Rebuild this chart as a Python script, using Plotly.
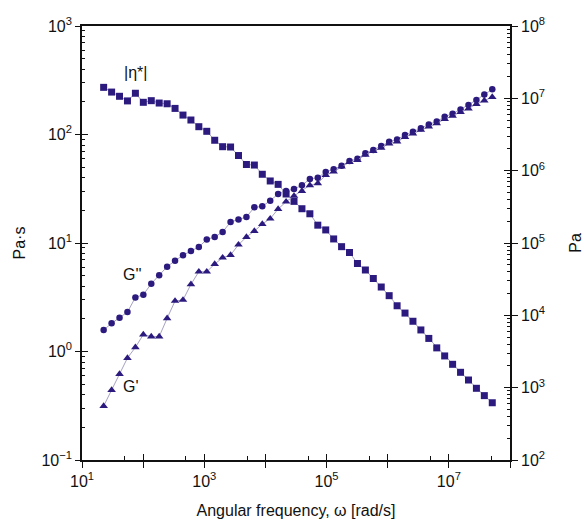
import plotly.graph_objects as go

# Angular frequency, rad/s
omega = [22.6, 30.5, 41.1, 55.4, 74.7, 100.7, 135.8, 183.0, 246.8, 332.6,
         448.4, 604.4, 814.7, 1098, 1481, 1996, 2691, 3627, 4889, 6591,
         8884, 11980, 16140, 21770, 29340, 39550, 53320, 71870, 96880, 130600,
         176000, 237300, 319900, 431200, 581300, 783600, 1.056e6, 1.424e6, 1.919e6, 2.587e6,
         3.488e6, 4.701e6, 6.339e6, 8.545e6, 1.152e7, 1.553e7, 2.094e7, 2.822e7, 3.804e7, 5.128e7]

# |eta*| in Pa·s (left axis)
eta = [272, 246, 225, 204, 240, 198, 205, 195, 192, 174,
       151, 136, 118, 107, 88.5, 77.2, 76.7, 64.0, 52.9, 52.3,
       43.0, 37.3, 34.7, 28.3, 24.2, 20.7, 18.6, 14.6, 13.2, 10.9,
       9.25, 8.17, 6.47, 5.64, 4.71, 3.93, 3.27, 2.64, 2.26, 1.90,
       1.58, 1.32, 1.08, 0.910, 0.762, 0.643, 0.546, 0.458, 0.392, 0.337]

# G'' in Pa (right axis)
g2 = [6270, 7760, 9270, 11100, 17700, 19300, 27400, 35700, 47000, 56900,
      67600, 77500, 88100, 112000, 121000, 142000, 195000, 211000, 229000, 311000,
      321000, 385000, 476000, 523000, 557000, 628000, 767000, 800000, 958000, 1.045e6,
      1.17e6, 1.36e6, 1.46e6, 1.74e6, 1.93e6, 2.19e6, 2.51e6, 2.70e6, 3.11e6, 3.44e6,
      3.85e6, 4.35e6, 4.78e6, 5.57e6, 6.13e6, 7.01e6, 8.09e6, 9.48e6, 1.13e7, 1.33e7]

# G' in Pa (right axis)
g1 = [557, 927, 1545, 2570, 3610, 5430, 5090, 5090, 9100, 15800,
      16300, 26800, 40100, 40100, 51200, 62600, 68200, 94700, 121000, 146000,
      183000, 217000, 295000, 372000, 447000, 523000, 628000, 668000, 871000, 968000,
      1.135e6, 1.31e6, 1.40e6, 1.66e6, 1.87e6, 2.06e6, 2.37e6, 2.53e6, 2.92e6, 3.26e6,
      3.65e6, 4.08e6, 4.49e6, 5.18e6, 5.70e6, 6.47e6, 7.23e6, 8.35e6, 9.33e6, 1.04e7]

x_decades = [1, 2, 3, 4, 5, 6, 7, 8]
x_labels = ["10<sup>1</sup>", "", "10<sup>3</sup>", "", "10<sup>5</sup>", "", "10<sup>7</sup>", ""]
yl_decades = [-1, 0, 1, 2, 3]
yl_labels = ["10<sup>−1</sup>", "10<sup>0</sup>", "10<sup>1</sup>", "10<sup>2</sup>", "10<sup>3</sup>"]
yr_decades = [2, 3, 4, 5, 6, 7, 8]
yr_labels = ["10<sup>2</sup>", "10<sup>3</sup>", "10<sup>4</sup>", "10<sup>5</sup>",
             "10<sup>6</sup>", "10<sup>7</sup>", "10<sup>8</sup>"]

# curve labels: text, position (log10 of omega, log10 of value), axis
curve_labels = [("|η*|", 1.88, 2.57, "y"), ("G''", 1.83, 4.56, "y2"), ("G'", 1.80, 3.01, "y2")]

MARK = "#2C1A7E"
LINE = "#A7A2C2"
FONT = "Arial, Liberation Sans, sans-serif"

def vals(decs):
    return [10 ** d for d in decs]

def minors(decs, mults):
    out = []
    for d in decs[:-1]:
        for m in mults:
            out.append(m * 10 ** d)
    return out

fig = go.Figure()
fig.add_trace(go.Scatter(x=omega, y=eta, mode="lines+markers", xaxis="x", yaxis="y",
                         line=dict(color=LINE, width=1),
                         marker=dict(symbol="square", size=7, color=MARK), name="|η*|"))
fig.add_trace(go.Scatter(x=omega, y=g2, mode="lines+markers", xaxis="x", yaxis="y2",
                         line=dict(color=LINE, width=1),
                         marker=dict(symbol="circle", size=6.5, color=MARK), name="G''"))
fig.add_trace(go.Scatter(x=omega, y=g1, mode="lines+markers", xaxis="x", yaxis="y2",
                         line=dict(color=LINE, width=1),
                         marker=dict(symbol="triangle-up", size=7.5, color=MARK), name="G'"))
# empty traces so that the tick-overlay axes are drawn
fig.add_trace(go.Scatter(x=[], y=[], xaxis="x2", yaxis="y3", showlegend=False))
fig.add_trace(go.Scatter(x=[], y=[], xaxis="x2", yaxis="y4", showlegend=False))

tickfont = dict(family=FONT, size=16, color="#111")
common = dict(type="log", showgrid=False, zeroline=False, tickcolor="#111", tickwidth=1.3,
              automargin=False)

fig.update_layout(
    width=584, height=520,
    margin=dict(l=82, r=74, t=26, b=60),
    paper_bgcolor="white", plot_bgcolor="white",
    showlegend=False,
    font=dict(family=FONT, color="#111"),
    xaxis=dict(**common, range=[1, 8], tickmode="array", tickvals=vals(x_decades), ticktext=x_labels,
               ticks="outside", ticklen=6, tickfont=tickfont, showline=True, linecolor="#111",
               linewidth=1.6, mirror=True, anchor="y",
               minor=dict(tickmode="array", tickvals=minors(x_decades, [5]), ticks="inside",
                          ticklen=4, tickcolor="#111", tickwidth=1),
               title=dict(text="Angular frequency, ω [rad/s]", font=dict(family=FONT, size=16), standoff=16)),
    xaxis2=dict(**common, range=[1, 8], overlaying="x", anchor="y", side="bottom",
                tickmode="array", tickvals=vals(x_decades), ticks="inside", ticklen=6,
                showticklabels=False, showline=False),
    yaxis=dict(**common, range=[-1, 3], tickmode="array", tickvals=vals(yl_decades), ticktext=yl_labels,
               ticks="outside", ticklen=5, tickfont=tickfont, showline=True, linecolor="#111",
               linewidth=1.6, anchor="x", side="left",
               minor=dict(tickmode="array", tickvals=minors(yl_decades, [2, 3, 4, 5, 6, 7, 8, 9]),
                          ticks="inside", ticklen=3, tickcolor="#111", tickwidth=1),
               title=dict(text="Pa·s", font=dict(family=FONT, size=16), standoff=12)),
    yaxis3=dict(**common, range=[-1, 3], overlaying="y", anchor="x2", side="left",
                tickmode="array", tickvals=vals(yl_decades), ticks="inside", ticklen=6,
                showticklabels=False, showline=False),
    yaxis2=dict(**common, range=[2, 8], overlaying="y", anchor="x", side="right",
                tickmode="array", tickvals=vals(yr_decades), ticktext=yr_labels,
                ticks="outside", ticklen=6, tickfont=tickfont, showline=True, linecolor="#111",
                linewidth=1.6,
                minor=dict(tickmode="array", tickvals=minors(yr_decades, [2, 3, 4, 5, 6, 7, 8, 9]),
                           ticks="inside", ticklen=3, tickcolor="#111", tickwidth=1),
                title=dict(text="Pa", font=dict(family=FONT, size=16), standoff=28)),
    yaxis4=dict(**common, range=[2, 8], overlaying="y", anchor="x2", side="right",
                tickmode="array", tickvals=vals(yr_decades), ticks="inside", ticklen=6,
                showticklabels=False, showline=False),
)

for text, lx, ly, yref in curve_labels:
    fig.add_annotation(x=lx, y=ly, xref="x", yref=yref, text=text, showarrow=False,
                       font=dict(family=FONT, size=16, color="#111"))

fig.write_html("out.html")
